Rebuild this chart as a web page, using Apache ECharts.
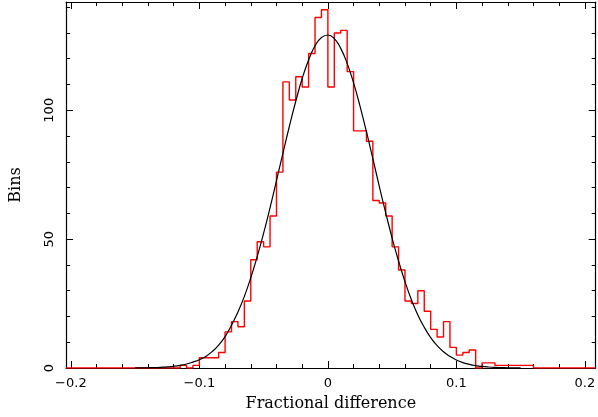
<!DOCTYPE html>
<html>
<head>
<meta charset="utf-8">
<script src="https://cdn.jsdelivr.net/npm/echarts@6/dist/echarts.min.js"></script>
<style>
html,body{margin:0;padding:0;background:#fff;}
#chart{width:598px;height:417px;}
</style>
</head>
<body>
<div id="chart"></div>
<script>
// ---- data ----
const X_MIN = -0.2038;
const X_MAX = 0.2084;
const Y_MIN = 0;
const Y_MAX = 142;

const xMajorTicks = [-0.2, -0.1, 0, 0.1, 0.2];
const xMinorTicks = [-0.18, -0.16, -0.14, -0.12, -0.08, -0.06, -0.04, -0.02,
                     0.02, 0.04, 0.06, 0.08, 0.12, 0.14, 0.16, 0.18];
const yMajorTicks = [0, 50, 100];
const yMinorTicks = [10, 20, 30, 40, 60, 70, 80, 90, 110, 120, 130, 140];

// histogram: bins of width 0.005, first bin starts at -0.115
const binStart = -0.115;
const binWidth = 0.005;
const binCounts = [
  1, 0, 1, 4, 4, 4, 6, 14, 18, 16,
  26, 42, 49, 47, 59, 76, 111, 104, 113, 109,
  122, 136, 139, 109, 130, 131, 115, 92, 92, 88,
  65, 64, 59, 47, 38, 26, 25, 30, 22, 15,
  12, 18, 8, 5, 6, 7, 0, 2, 2, 1,
  1, 1, 1, 1, 1
];

// fitted curve
const curveX = [
  -0.150, -0.145, -0.140, -0.135, -0.130, -0.125, -0.120, -0.115, -0.110, -0.105,
  -0.100, -0.095, -0.090, -0.085, -0.080, -0.075, -0.070, -0.065, -0.060, -0.055,
  -0.050, -0.045, -0.040, -0.035, -0.030, -0.025, -0.020, -0.015, -0.010, -0.005,
   0.000,  0.005,  0.010,  0.015,  0.020,  0.025,  0.030,  0.035,  0.040,  0.045,
   0.050,  0.055,  0.060,  0.065,  0.070,  0.075,  0.080,  0.085,  0.090,  0.095,
   0.100,  0.105,  0.110,  0.115,  0.120,  0.125,  0.130,  0.135,  0.140,  0.145,
   0.150
];
const curveY = [
  0.03, 0.06, 0.10, 0.16, 0.27, 0.42, 0.66, 1.02, 1.55, 2.30,
  3.2, 4.5, 6.4, 8.9, 12.2, 16.6, 21.7, 27.8, 35.0, 43.2,
  52.3, 62.2, 72.7, 83.3, 93.7, 103.5, 112.3, 119.5, 125.0, 128.2,
  129.2, 127.8, 124.0, 118.2, 110.6, 101.6, 91.7, 81.2, 70.5, 60.2,
  50.4, 41.5, 33.5, 26.5, 20.6, 15.8, 11.8, 8.7, 6.3, 4.5,
  3.1, 2.1, 1.43, 0.94, 0.61, 0.39, 0.24, 0.15, 0.09, 0.05,
  0.03
];

// ---- build series data ----
const histPts = [[X_MIN, 0], [binStart, 0]];
binCounts.forEach((c, i) => {
  const lo = +(binStart + i * binWidth).toFixed(4);
  const hi = +(binStart + (i + 1) * binWidth).toFixed(4);
  histPts.push([lo, c], [hi, c]);
});
const histEnd = +(binStart + binCounts.length * binWidth).toFixed(4);
histPts.push([histEnd, 0], [X_MAX, 0]);

const curvePts = curveX.map((x, i) => [x, curveY[i]]);

const black = '#000';
const axisLineStyle = { color: black, width: 1.2 };
const tickStyle = { color: black, width: 1 };
const labelFont = 'DejaVu Sans';
const nameFont = 'DejaVu Serif';

function fmtX(v) {
  if (Math.abs(v) < 1e-9) return '0';
  return (v < 0 ? '\u2212' : '') + Math.abs(v).toFixed(1);
}

function xAxisDef(position, ticks, len, withLabels, withLine) {
  const a = {
    type: 'value', gridIndex: 0, position: position,
    min: X_MIN, max: X_MAX,
    axisLine: { show: withLine, onZero: false, lineStyle: axisLineStyle },
    axisTick: { show: true, inside: true, length: len, customValues: ticks, lineStyle: tickStyle },
    axisLabel: { show: withLabels },
    splitLine: { show: false }
  };
  if (withLabels) {
    a.axisLabel = {
      show: true, customValues: xMajorTicks, formatter: fmtX,
      color: black, fontFamily: labelFont, fontSize: 13, margin: 9
    };
    a.name = 'Fractional difference';
    a.nameLocation = 'middle';
    a.nameGap = 28;
    a.nameTextStyle = { color: black, fontFamily: nameFont, fontSize: 16 };
  }
  return a;
}
function yAxisDef(position, ticks, len, withLabels, withLine) {
  const a = {
    type: 'value', gridIndex: 0, position: position,
    min: Y_MIN, max: Y_MAX,
    axisLine: { show: withLine, onZero: false, lineStyle: axisLineStyle },
    axisTick: { show: true, inside: true, length: len, customValues: ticks, lineStyle: tickStyle },
    axisLabel: { show: withLabels },
    splitLine: { show: false }
  };
  if (withLabels) {
    a.axisLabel = {
      show: true, customValues: yMajorTicks, rotate: 90,
      color: black, fontFamily: labelFont, fontSize: 13, margin: 10
    };
    a.name = 'Bins';
    a.nameLocation = 'middle';
    a.nameGap = 42;
    a.nameRotate = 90;
    a.nameTextStyle = { color: black, fontFamily: nameFont, fontSize: 16 };
  }
  return a;
}

const chart = echarts.init(document.getElementById('chart'), null, { renderer: 'canvas' });
chart.setOption({
  animation: false,
  backgroundColor: '#fff',
  grid: { left: 55, right: 1, top: 2, bottom: 40, containLabel: false },
  xAxis: [
    xAxisDef('bottom', xMajorTicks, 7, true, true),
    xAxisDef('bottom', xMinorTicks, 4, false, false),
    xAxisDef('top', xMajorTicks, 7, false, true),
    xAxisDef('top', xMinorTicks, 4, false, false)
  ],
  yAxis: [
    yAxisDef('left', yMajorTicks, 7, true, true),
    yAxisDef('left', yMinorTicks, 4, false, false),
    yAxisDef('right', yMajorTicks, 7, false, true),
    yAxisDef('right', yMinorTicks, 4, false, false)
  ],
  series: [
    {
      type: 'line', xAxisIndex: 0, yAxisIndex: 0,
      data: histPts, showSymbol: false, symbol: 'none',
      lineStyle: { color: '#ff0000', width: 1.4 },
      z: 3, silent: true
    },
    {
      type: 'line', xAxisIndex: 0, yAxisIndex: 0,
      data: curvePts, showSymbol: false, symbol: 'none', smooth: true,
      lineStyle: { color: '#000', width: 1.2 },
      z: 4, silent: true
    }
  ]
});
</script>
</body>
</html>
